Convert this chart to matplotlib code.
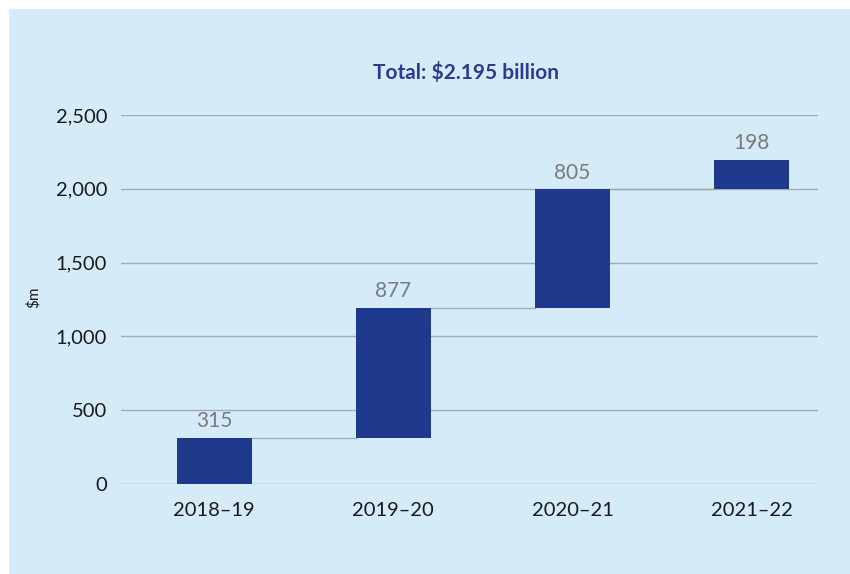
import numpy as np
import matplotlib
matplotlib.use('Agg')
import matplotlib.pyplot as plt
from matplotlib.patches import Rectangle

plt.rcParams['font.family'] = ['Lato', 'DejaVu Sans']

years = ['2018–19', '2019–20', '2020–21', '2021–22']
values = [315, 877, 805, 198]
yticks = [0, 500, 1000, 1500, 2000, 2500]
title = 'Total: $2.195 billion'

bg = '#d5ecf8'
bar_col = '#1f3a8c'
grid_col = '#a3abb4'

cum = np.cumsum(values)
bottoms = cum - np.array(values)
x = np.arange(len(years))
w = 0.42

fig = plt.figure(figsize=(8.5, 5.74), dpi=100)
fig.patch.set_facecolor('white')
fig.patches.append(Rectangle((9 / 850, 0), 1, 1 - 9 / 574, transform=fig.transFigure,
                             facecolor=bg, edgecolor='none', zorder=-10))

ax = fig.add_axes([121 / 850, 1 - 484 / 574, (818 - 121) / 850, (484 - 115) / 574])
ax.set_facecolor(bg)
ax.patch.set_alpha(0)

ax.bar(x, values, bottom=bottoms, width=w, color=bar_col, zorder=3)

# connectors between bars
for i in range(len(values) - 1):
    ax.plot([x[i] + w / 2, x[i + 1] - w / 2], [cum[i], cum[i]], color=grid_col, lw=1, zorder=2)

for xi, top, v in zip(x, cum, values):
    ax.text(xi, top + 45, f'{v}', ha='center', va='bottom', fontsize=15, color='#7a7a7a')

ax.set_xlim(-0.52, 3.37)
ax.set_ylim(0, 2500)
ax.set_yticks(yticks)
ax.set_yticklabels([f'{t:,}' for t in yticks])
ax.set_xticks(x)
ax.set_xticklabels(years)
ax.yaxis.grid(True, color=grid_col, lw=1, zorder=1)
ax.set_axisbelow(True)
for s in ax.spines.values():
    s.set_visible(False)
ax.tick_params(axis='both', length=0, labelsize=14.5, colors='#1a1a1a')
ax.tick_params(axis='y', pad=10)
ax.tick_params(axis='x', pad=13)

fig.text(33 / 850, 1 - 297 / 574, '$m', rotation=90, ha='center', va='center',
         fontsize=11, color='#1a1a1a')

fig.text(466 / 850, 1 - 72 / 574, title, ha='center', va='center', fontsize=15,
         fontweight='bold', color='#2e3a8e')

plt.savefig('out.png', dpi=100)
